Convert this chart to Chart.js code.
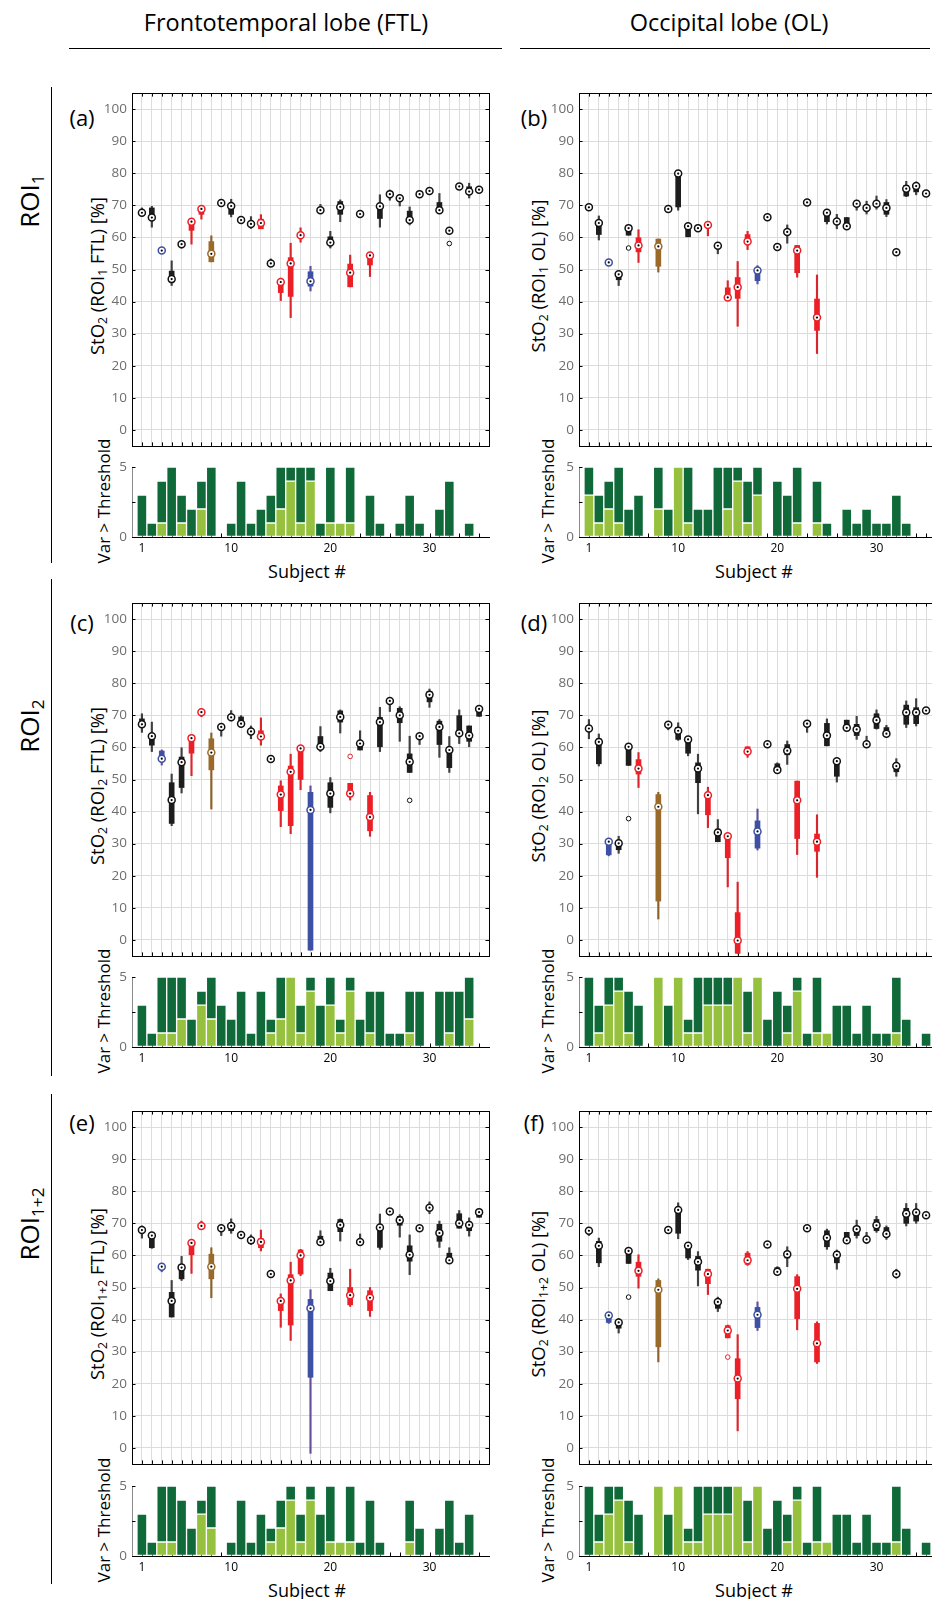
<!DOCTYPE html>
<html>
<head>
<meta charset="utf-8">
<script src="https://cdn.jsdelivr.net/npm/chart.js@4.4.0/dist/chart.umd.min.js"></script>
<style>
html, body { margin: 0; padding: 0; background: #fff; overflow: hidden; }
body { width: 932px; height: 1599px; position: relative; font-family: 'Open Sans', sans-serif; color: #000; }
canvas { position: absolute; }
.t { position: absolute; white-space: nowrap; transform: translate(-50%, -50%); line-height: 1; }
.r { transform: translate(-50%, -50%) rotate(-90deg); }
.hl { position: absolute; height: 0; border-top: 1.5px solid #000; }
.vl { position: absolute; width: 0; border-left: 1.5px solid #000; }
sub { font-size: 0.66em; vertical-align: -0.3em; line-height: 0; }
.head { font-size: 23.5px; }
.roi { font-size: 26px; }
.pl { font-size: 22px; }
.yt { font-size: 17px; }
.st { font-size: 18.5px; }
.sx { font-size: 18px; }
</style>
</head>
<body>

<div class="t head" style="left:286px;top:23px">Frontotemporal lobe (FTL)</div>
<div class="t head" style="left:729px;top:23px">Occipital lobe (OL)</div>
<div class="hl" style="left:69px;top:48px;width:433px"></div>
<div class="hl" style="left:520px;top:48px;width:410px"></div>

<div class="t r roi" style="left:29px;top:201px">ROI<sub>1</sub></div>
<div class="t r roi" style="left:29px;top:726px">ROI<sub>2</sub></div>
<div class="t r roi" style="left:29px;top:1224px">ROI<sub>1+2</sub></div>
<div class="vl" style="left:51px;top:87px;height:476px"></div>
<div class="vl" style="left:51px;top:579px;height:497px"></div>
<div class="vl" style="left:51px;top:1094px;height:490px"></div>

<div class="t pl" style="left:82px;top:117px">(a)</div>
<div class="t pl" style="left:534px;top:117px">(b)</div>
<div class="t pl" style="left:82px;top:622px">(c)</div>
<div class="t pl" style="left:534px;top:622px">(d)</div>
<div class="t pl" style="left:82px;top:1122px">(e)</div>
<div class="t pl" style="left:534px;top:1122px">(f)</div>

<div class="t r st" style="left:97px;top:276px">StO<sub>2</sub> (ROI<sub>1</sub> FTL) [%]</div>
<div class="t r st" style="left:538px;top:276px">StO<sub>2</sub> (ROI<sub>1</sub> OL) [%]</div>
<div class="t r st" style="left:97px;top:786px">StO<sub>2</sub> (ROI<sub>2</sub> FTL) [%]</div>
<div class="t r st" style="left:538px;top:786px">StO<sub>2</sub> (ROI<sub>2</sub> OL) [%]</div>
<div class="t r st" style="left:97px;top:1294px">StO<sub>2</sub> (ROI<sub>1+2</sub> FTL) [%]</div>
<div class="t r st" style="left:538px;top:1294px">StO<sub>2</sub> (ROI<sub>1+2</sub> OL) [%]</div>

<div class="t r yt" style="left:103px;top:501px">Var &gt; Threshold</div>
<div class="t r yt" style="left:547px;top:501px">Var &gt; Threshold</div>
<div class="t r yt" style="left:103px;top:1011px">Var &gt; Threshold</div>
<div class="t r yt" style="left:547px;top:1011px">Var &gt; Threshold</div>
<div class="t r yt" style="left:103px;top:1520px">Var &gt; Threshold</div>
<div class="t r yt" style="left:547px;top:1520px">Var &gt; Threshold</div>

<div class="t sx" style="left:307px;top:571px">Subject #</div>
<div class="t sx" style="left:754px;top:571px">Subject #</div>
<div class="t sx" style="left:307px;top:1590px">Subject #</div>
<div class="t sx" style="left:754px;top:1590px">Subject #</div>

<script>
const subjects = [1,2,3,4,5,6,7,8,9,10,11,12,13,14,15,16,17,18,19,20,21,22,23,24,25,26,27,28,29,30,31,32,33,34,35];
// k = black, r = red, b = blue, n = brown
const groups = ['k','k','b','k','k','r','r','n','k','k','k','k','r','k','r','r','r','b','k','k','k','r','k','r','k','k','k','k','k','k','k','k','k','k','k'];
const stoTicks = [0,10,20,30,40,50,60,70,80,90,100];
const countTicks = [0,5];
const subjectTicks = [1,10,20,30];

// rows: [median, q1, q3, whisker low, whisker high]
const boxA = [
  [67.7,null,null,66.5,69.2],[66.2,66.0,69.2,63.2,69.7],[55.9,null,null,null,null],[47.0,47.0,49.5,45.0,52.7],
  [57.9,null,null,56.7,58.9],[64.9,62.2,64.9,57.9,65.7],[68.9,67.2,68.9,65.7,70.0],[54.9,52.4,58.7,52.4,60.5],
  [70.7,null,null,69.9,71.5],[69.8,67.2,69.8,66.4,71.9],[65.4,null,null,null,null],[64.2,null,null,62.8,66.5],
  [64.5,62.7,65.7,62.7,67.1],[51.9,null,null,51.0,53.3],[46.1,42.8,46.8,40.3,47.3],[51.9,41.6,53.7,35.0,58.2],
  [60.7,null,null,58.5,63.0],[46.3,44.8,49.3,43.3,51.0],[68.5,null,null,67.8,70.3],[58.4,58.4,60.2,56.7,61.9],
  [69.5,67.2,71.2,64.9,71.7],[49.0,44.6,51.7,44.6,54.5],[67.3,null,null,null,null],[54.4,51.4,54.8,47.8,55.3],
  [69.7,65.9,69.7,63.2,73.3],[73.5,null,null,71.6,74.8],[72.2,null,null,69.8,73.3],[65.4,65.4,68.2,63.9,69.5],
  [73.5,null,null,72.8,74.5],[74.5,null,null,73.3,75.6],[68.5,68.5,70.9,68.5,73.7],[62.1,null,null,null,null],
  [75.9,null,null,null,null],[74.3,74.3,75.8,72.3,76.9],[74.9,null,null,null,null]
];
const boxB = [
  [69.4,null,null,null,null],[64.5,60.9,64.5,59.2,66.7],[52.2,null,null,null,null],[48.5,46.8,48.5,45.0,49.3],
  [62.9,60.7,62.9,60.7,63.8],[57.5,55.5,59.9,52.2,62.4],null,[57.2,51.0,59.5,49.2,59.5],
  [68.9,null,null,null,null],[79.9,69.5,79.9,68.5,80.9],[63.5,60.2,63.5,60.2,64.6],[62.9,null,null,62.2,64.0],
  [63.9,null,null,60.5,64.8],[57.4,null,null,54.9,58.2],[41.3,40.3,44.3,40.3,46.5],[44.5,41.0,47.5,32.3,52.5],
  [58.7,58.7,60.9,56.2,61.9],[49.7,46.5,49.7,45.5,51.2],[66.3,null,null,null,null],[57.0,null,null,null,null],
  [61.7,null,null,58.2,63.9],[55.9,49.0,57.5,47.6,57.5],[70.9,null,null,null,null],[35.0,31.0,40.8,23.8,48.3],
  [67.7,64.9,67.7,64.2,68.8],[65.0,null,null,62.7,67.2],[63.5,63.5,66.2,63.5,66.2],[70.5,null,null,68.5,71.6],
  [69.2,null,null,67.3,71.3],[70.5,null,null,68.8,72.9],[69.2,67.2,70.9,66.5,71.8],[55.4,null,null,null,null],
  [75.2,72.9,76.2,72.7,77.5],[76.0,74.2,76.0,73.3,77.3],[73.7,null,null,null,null]
];
const boxC = [
  [67.2,66.4,68.9,64.7,70.5],[63.5,60.7,63.5,58.7,67.9],[56.5,56.5,58.9,54.5,59.2],[43.6,36.3,49.0,35.6,51.7],
  [55.4,47.5,57.0,45.8,59.9],[62.9,58.2,62.9,51.2,63.7],[71.0,null,null,69.6,72.0],[58.4,53.0,62.7,40.8,64.5],
  [66.4,null,null,63.5,67.3],[69.4,null,null,68.3,71.5],[67.4,67.4,69.5,66.3,69.9],[65.0,null,null,62.7,66.7],
  [63.4,62.7,65.2,60.7,69.2],[56.4,null,null,null,null],[45.3,40.3,48.0,35.3,49.6],[52.4,35.6,54.2,33.1,57.9],
  [59.7,50.0,60.2,46.8,60.4],[40.5,-3.2,46.0,-3.2,48.0],[60.2,60.2,63.4,58.7,66.5],[45.6,41.3,49.0,39.6,50.6],
  [69.5,67.9,71.4,64.5,71.7],[45.6,44.6,48.8,43.6,48.8],[61.2,59.2,61.2,59.2,65.2],[38.3,34.0,45.0,32.3,46.0],
  [67.9,60.2,69.4,58.7,72.5],[74.5,null,null,71.2,75.5],[70.0,67.7,72.2,61.9,72.7],[55.5,52.2,58.0,52.2,63.5],
  [63.5,null,null,60.9,64.3],[76.4,74.2,77.5,72.5,78.2],[66.4,60.9,68.2,56.9,68.7],[59.2,53.7,59.9,52.2,63.4],
  [64.4,63.7,69.9,61.2,71.7],[63.7,61.9,66.7,60.2,66.7],[72.0,69.7,72.0,69.7,72.7]
];
const boxD = [
  [65.9,null,null,62.7,68.7],[61.7,54.9,62.7,54.2,64.2],[30.6,26.5,30.6,26.2,30.8],[30.1,28.1,30.1,27.0,32.3],
  [60.2,54.4,60.2,54.4,60.8],[53.4,51.7,56.2,47.5,58.4],null,[41.5,12.1,45.3,6.5,46.0],
  [67.1,null,null,65.5,67.8],[65.2,62.5,66.2,62.2,67.7],[62.5,58.2,62.5,57.4,63.3],[53.4,49.0,55.2,39.3,57.9],
  [45.1,39.0,46.0,35.0,47.6],[33.5,30.6,34.5,30.6,37.5],[32.3,25.6,32.3,16.5,32.8],[-0.2,-4.2,8.5,-4.2,18.0],
  [58.7,58.7,60.2,56.9,60.2],[33.8,28.6,37.1,28.0,40.8],[61.0,null,null,null,null],[53.0,53.0,54.9,53.0,55.2],
  [59.0,57.7,60.9,54.7,62.0],[43.5,31.6,49.5,26.6,49.5],[67.4,null,null,64.7,68.2],[30.6,27.6,33.0,19.5,39.0],
  [63.7,60.5,67.5,60.5,68.9],[55.7,51.0,55.7,49.2,56.2],[66.1,65.2,68.5,65.0,68.5],[65.6,63.7,67.2,62.5,69.7],
  [61.0,null,null,60.2,63.5],[68.5,65.9,70.5,65.7,71.7],[64.3,64.3,66.2,63.7,66.9],[54.2,52.4,54.2,51.0,56.5],
  [70.9,67.2,73.2,66.2,74.5],[70.9,67.4,72.4,66.7,75.2],[71.5,null,null,null,null]
];
const boxE = [
  [67.9,null,null,65.4,69.2],[66.2,62.4,66.2,62.2,66.9],[56.5,null,null,54.9,57.2],[45.8,40.8,48.5,40.8,52.2],
  [56.2,52.7,57.2,52.2,59.7],[63.9,60.2,64.2,54.4,64.5],[69.2,null,null,68.5,70.7],[56.5,52.7,60.4,46.8,62.4],
  [68.5,null,null,66.2,69.2],[69.2,67.7,69.2,66.9,71.4],[66.4,null,null,65.4,67.2],[64.7,63.7,65.4,63.4,66.4],
  [64.2,62.4,65.2,61.4,67.9],[54.2,null,null,null,null],[45.8,42.8,46.5,37.6,48.0],[52.2,38.3,54.0,33.5,57.9],
  [60.0,54.2,61.7,53.7,61.9],[43.5,22.0,46.3,-1.7,49.3],[64.2,64.2,66.0,63.7,67.7],[52.0,49.0,54.5,49.0,56.0],
  [69.5,67.4,71.2,64.5,71.4],[47.6,44.6,50.0,44.1,55.7],[64.2,null,null,63.4,66.7],[46.8,42.8,49.0,41.0,50.0],
  [68.7,62.5,69.2,61.9,72.9],[73.7,null,null,null,null],[71.0,69.4,72.2,65.7,72.7],[60.2,58.2,63.0,54.0,66.4],
  [68.5,null,null,null,null],[74.9,null,null,73.0,76.7],[67.0,64.4,69.7,62.5,70.7],[58.5,57.7,60.7,57.7,62.4],
  [70.0,68.5,73.0,68.5,74.0],[69.5,67.7,70.4,66.0,71.7],[73.5,71.9,73.5,71.9,74.5]
];
const boxF = [
  [67.7,null,null,66.2,68.5],[63.0,57.7,64.4,56.5,65.4],[41.3,39.1,41.3,38.8,42.0],[39.1,37.3,39.1,35.8,40.3],
  [61.4,57.5,61.4,57.5,62.0],[55.2,53.5,57.9,49.8,60.2],null,[49.3,31.5,52.2,26.8,52.7],
  [67.9,null,null,null,null],[74.2,66.9,74.2,65.2,76.4],[63.0,59.2,63.0,58.7,63.8],[58.0,55.4,59.7,50.5,61.2],
  [54.2,51.2,55.7,47.8,55.7],[45.5,43.5,46.3,42.5,47.0],[36.6,34.3,38.1,34.3,38.3],[21.6,15.3,27.8,5.3,35.3],
  [58.5,57.2,60.7,56.9,61.2],[41.5,37.5,43.8,36.6,45.5],[63.4,null,null,null,null],[54.9,54.9,56.2,54.4,56.5],
  [60.4,59.2,61.2,56.5,62.7],[49.6,40.3,53.4,36.8,54.0],[68.5,null,null,null,null],[32.6,26.8,38.8,26.3,39.3],
  [65.5,62.7,67.7,61.9,68.2],[60.2,57.7,61.2,55.7,61.7],[64.7,64.7,67.2,64.0,67.2],[68.2,66.2,69.0,65.4,71.0],
  [65.0,null,null,63.7,67.2],[69.4,67.7,71.2,67.2,72.2],[66.7,66.7,68.7,65.0,69.2],[54.2,null,null,52.9,55.7],
  [73.0,70.0,74.7,69.2,76.2],[73.4,70.7,73.4,70.0,76.2],[72.5,null,null,null,null]
];
// outliers: [subject, value]
const outA = [[32,58.1]];
const outB = [[5,56.7]];
const outC = [[22,57.2],[28,43.5]];
const outD = [[5,37.8]];
const outE = [];
const outF = [[5,47.0],[15,28.3]];

// Var > Threshold counts: total per subject and the light-green part
const totA   = [3,1,4,5,3,2,4,5,0,1,4,1,2,3,5,5,5,5,1,5,1,5,0,3,1,0,1,3,1,0,2,4,0,1,0];
const lightA = [0,0,1,0,1,0,2,0,0,0,0,0,0,1,2,4,1,4,0,1,1,1,0,0,0,0,0,0,0,0,0,0,0,0,0];
const totB   = [5,3,4,5,2,3,0,5,2,5,5,2,2,5,5,5,4,5,0,4,3,5,0,4,1,0,2,1,2,1,1,3,1,0,0];
const lightB = [3,1,2,1,0,0,0,2,0,5,1,0,0,0,2,4,1,3,0,0,0,1,0,1,0,0,0,0,0,0,0,0,0,0,0];
const totC   = [3,1,5,5,5,2,4,5,3,2,4,1,4,2,5,5,3,5,3,5,2,5,2,4,4,1,1,4,4,0,4,4,4,5,0];
const lightC = [0,0,1,1,2,0,3,2,0,0,0,0,0,1,2,5,1,4,0,3,1,4,0,1,0,0,0,1,0,0,0,1,0,2,0];
const totD   = [5,3,5,5,4,3,0,5,3,5,2,5,5,5,5,5,4,5,2,4,3,5,1,5,1,3,3,1,3,1,1,5,2,0,1];
const lightD = [0,1,3,4,1,0,0,5,0,5,1,1,3,3,3,5,1,5,0,0,1,4,0,1,1,0,0,0,0,0,0,1,0,0,0];
const totE   = [3,1,5,5,4,2,4,5,0,1,4,1,3,2,4,5,3,5,3,5,1,5,1,4,1,0,0,4,2,0,2,4,1,3,0];
const lightE = [0,0,1,1,0,0,3,2,0,0,0,0,0,1,2,4,1,4,0,1,1,1,0,0,0,0,0,1,0,0,0,0,0,0,0];
const totF   = [5,3,5,5,4,3,0,5,3,5,2,5,5,5,5,5,4,5,2,4,3,5,1,5,1,3,3,1,3,1,1,5,2,0,1];
const lightF = [0,1,3,4,1,0,0,5,0,5,1,1,3,3,3,5,1,5,0,0,1,4,0,1,1,0,0,0,0,0,0,1,0,0,0];

const FONT = "'Open Sans', sans-serif";
const GRID = '#dcdcdc';
const EDGE = {k: '#111111', r: '#ec1f27', b: '#3b4ea0', n: '#9a6a2a'};
const BOX = {k: '#1d1d1d', r: '#ec1f27', b: '#3d50a3', n: '#9a6a2a'};
const WHISK = {k: '#404040', r: '#d9262c', b: '#62509c', n: '#8c6028'};
const DARK = '#0f6938';
const LIGHT = '#95c13e';

const colLeft = [132, 579];
const boxTop = [86, 596, 1104];
const barTop = [460, 970, 1479];
const AREA_W = 357, BOX_H = 367, BAR_H = 83;

// inward tick marks and the box frame, as in the original axes
const frame = {
    id: 'frame',
    beforeDatasetsDraw(chart, args, o) {
        const {ctx, chartArea: a, scales: {x, y}} = chart;
        ctx.save();
        ctx.strokeStyle = '#000';
        ctx.lineWidth = 1;
        ctx.beginPath();
        o.xMarks.forEach(v => {
            const px = Math.round(x.getPixelForValue(v)) + 0.5;
            ctx.moveTo(px, a.bottom); ctx.lineTo(px, a.bottom - 3.5);
            if (o.box) { ctx.moveTo(px, a.top); ctx.lineTo(px, a.top + 3.5); }
        });
        o.yMarks.forEach(v => {
            const py = Math.round(y.getPixelForValue(v)) + 0.5;
            ctx.moveTo(a.left, py); ctx.lineTo(a.left + 3.5, py);
            if (o.box) { ctx.moveTo(a.right, py); ctx.lineTo(a.right - 3.5, py); }
        });
        ctx.stroke();
        if (o.box) {
            ctx.strokeRect(Math.round(a.left) + 0.5, Math.round(a.top) + 0.5,
                Math.round(a.right - a.left), Math.round(a.bottom - a.top));
        }
        ctx.restore();
    }
};

function makeCanvas(left, top, w, h) {
    const cv = document.createElement('canvas');
    cv.width = w; cv.height = h;
    cv.style.left = left + 'px'; cv.style.top = top + 'px';
    cv.style.width = w + 'px'; cv.style.height = h + 'px';
    document.body.appendChild(cv);
    return cv.getContext('2d');
}

const byGroup = pal => c => (c.raw && c.raw.g) ? pal[c.raw.g] : '#000';

function boxChart(col, row, rows, outs) {
    const ctx = makeCanvas(colLeft[col] - 50, boxTop[row] - 6, 50 + AREA_W + 6, BOX_H + 12);
    const pts = [];
    rows.forEach((r, i) => { if (r) pts.push({s: subjects[i], g: groups[i], r: r}); });
    const medians = pts.map(p => ({x: p.s, y: p.r[0], g: p.g}));

    new Chart(ctx, {
        type: 'bar',
        data: {
            datasets: [
                { type: 'scatter', data: medians, order: 0,
                  pointRadius: 1.1, pointBackgroundColor: '#000', pointBorderWidth: 0 },
                { type: 'scatter', data: medians, order: 1,
                  pointRadius: 3.5, pointBackgroundColor: '#fff',
                  pointBorderColor: byGroup(EDGE), pointBorderWidth: 1.5 },
                { type: 'scatter', order: 2,
                  data: outs.map(o => ({x: o[0], y: o[1], g: groups[o[0] - 1]})),
                  pointRadius: 2.3, pointBackgroundColor: '#fff',
                  pointBorderColor: byGroup(EDGE), pointBorderWidth: 1 },
                { type: 'bar', order: 3, grouped: false, barThickness: 5,
                  data: pts.filter(p => p.r[1] != null).map(p => ({x: p.s, y: [p.r[1], p.r[2]], g: p.g})),
                  backgroundColor: byGroup(BOX) },
                { type: 'bar', order: 4, grouped: false, barThickness: 1.5,
                  data: pts.filter(p => p.r[3] != null).map(p => ({x: p.s, y: [p.r[3], p.r[4]], g: p.g})),
                  backgroundColor: byGroup(WHISK) }
            ]
        },
        options: {
            responsive: false,
            animation: false,
            events: [],
            layout: { padding: { top: 6, right: 6, bottom: 6, left: 0 } },
            plugins: {
                legend: { display: false },
                tooltip: { enabled: false },
                frame: { box: true, xMarks: subjects, yMarks: stoTicks }
            },
            scales: {
                x: {
                    type: 'linear', min: 0, max: 36, offset: false,
                    afterBuildTicks: s => { s.ticks = subjects.map(v => ({value: v})); },
                    ticks: { display: false },
                    grid: { color: GRID, drawTicks: false, offset: false },
                    border: { display: false },
                    afterFit: s => { s.height = 0; }
                },
                y: {
                    type: 'linear', min: -5, max: 105,
                    afterBuildTicks: s => { s.ticks = stoTicks.map(v => ({value: v})); },
                    ticks: { color: '#6e6e6e', font: { family: FONT, size: 13.5 }, padding: 5 },
                    grid: { color: GRID, drawTicks: false },
                    border: { display: false },
                    afterFit: s => { s.width = 50; }
                }
            }
        },
        plugins: [frame]
    });
}

function countChart(col, row, tot, light) {
    const ctx = makeCanvas(colLeft[col] - 50, barTop[row] - 6, 50 + AREA_W + 6, BAR_H + 36);
    const lightBars = [], darkBars = [];
    subjects.forEach((s, i) => {
        if (light[i] > 0) lightBars.push({x: s, y: [0, light[i]]});
        if (tot[i] > light[i]) darkBars.push({x: s, y: [light[i], tot[i]]});
    });
    const barStyle = { grouped: false, barThickness: 9.9, borderWidth: 1,
                       borderColor: 'rgba(255,255,255,0.75)', borderSkipped: false };

    new Chart(ctx, {
        type: 'bar',
        data: {
            datasets: [
                Object.assign({ label: 'light', data: lightBars, backgroundColor: LIGHT }, barStyle),
                Object.assign({ label: 'dark', data: darkBars, backgroundColor: DARK }, barStyle)
            ]
        },
        options: {
            responsive: false,
            animation: false,
            events: [],
            layout: { padding: { top: 6, right: 6, bottom: 0, left: 0 } },
            plugins: {
                legend: { display: false },
                tooltip: { enabled: false },
                frame: { box: false, xMarks: subjects, yMarks: [0, 2.5, 5] }
            },
            scales: {
                x: {
                    type: 'linear', min: 0, max: 36, offset: false,
                    afterBuildTicks: s => { s.ticks = subjectTicks.map(v => ({value: v})); },
                    ticks: { color: '#000', font: { family: FONT, size: 12 }, padding: 4 },
                    grid: { color: 'rgba(0,0,0,0)', drawTicks: false, offset: false },
                    border: { display: true, color: '#000', width: 1 },
                    afterFit: s => { s.height = 36; }
                },
                y: {
                    type: 'linear', min: 0, max: 5,
                    afterBuildTicks: s => { s.ticks = countTicks.map(v => ({value: v})); },
                    ticks: { color: '#6e6e6e', font: { family: FONT, size: 13.5 }, padding: 5 },
                    grid: { color: 'rgba(0,0,0,0)', drawTicks: false },
                    border: { display: true, color: '#8a8a8a', width: 1 },
                    afterFit: s => { s.width = 50; }
                }
            }
        },
        plugins: [frame]
    });
}

boxChart(0, 0, boxA, outA);
boxChart(1, 0, boxB, outB);
boxChart(0, 1, boxC, outC);
boxChart(1, 1, boxD, outD);
boxChart(0, 2, boxE, outE);
boxChart(1, 2, boxF, outF);

countChart(0, 0, totA, lightA);
countChart(1, 0, totB, lightB);
countChart(0, 1, totC, lightC);
countChart(1, 1, totD, lightD);
countChart(0, 2, totE, lightE);
countChart(1, 2, totF, lightF);
</script>
</body>
</html>
